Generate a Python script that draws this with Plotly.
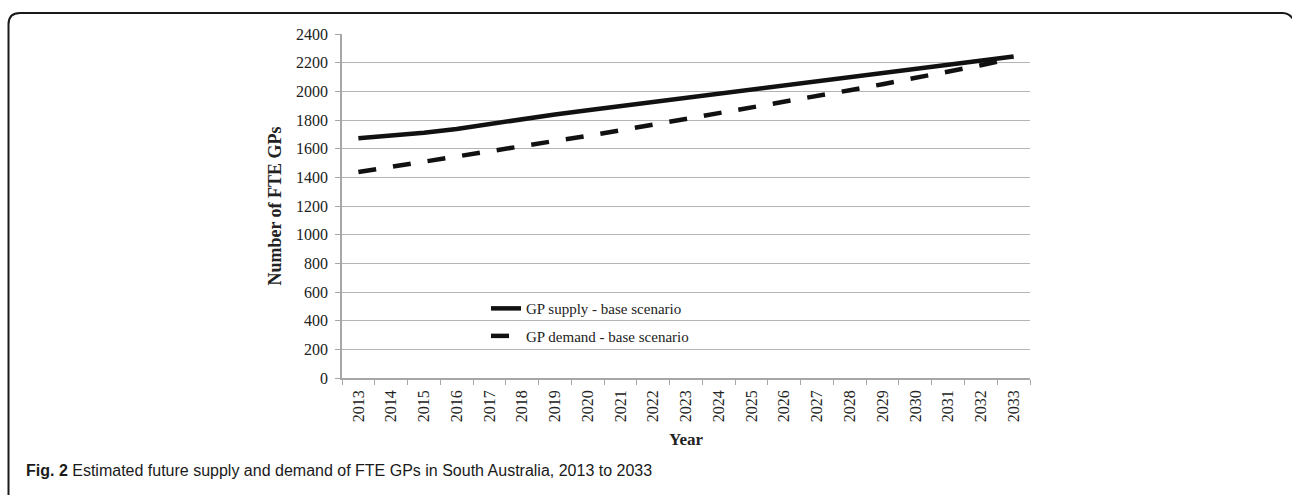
import plotly.graph_objects as go

years = [str(y) for y in range(2013, 2034)]
supply = [1672, 1688, 1711, 1737, 1772, 1810, 1839, 1868, 1897, 1926, 1955,
          1983, 2012, 2041, 2070, 2098, 2127, 2156, 2185, 2214, 2243]
demand = [1437, 1472, 1507, 1543, 1579, 1615, 1652, 1690, 1728, 1767, 1806,
          1846, 1886, 1926, 1967, 2008, 2050, 2092, 2135, 2182, 2232]
y_ticks = list(range(0, 2401, 200))

W, H = 1292, 495
L, R, T, B = 342, 1030, 33.5, 378
pw, ph = R - L, B - T


def px(x):
    return (x - L) / pw


def py(y):
    return (B - y) / ph


serif = "Liberation Serif, Times New Roman, serif"

fig = go.Figure()
fig.add_trace(go.Scatter(x=years, y=supply, mode="lines",
                         name="GP supply - base scenario", legendgroup="a",
                         line=dict(color="#111111", width=4.5)))
fig.add_trace(go.Scatter(x=years, y=demand, mode="lines",
                         name="GP demand - base scenario", legendgroup="b",
                         line=dict(color="#111111", width=4.5, dash="18px,17px")))

# figure frame (rounded)
frame = (f"M {px(8.5)},{py(500)} L {px(8.5)},{py(24)} "
         f"Q {px(8.5)},{py(12.5)} {px(20)},{py(12.5)} "
         f"L {px(1282)},{py(12.5)} Q {px(1290)},{py(12.5)} {px(1294)},{py(20)}")
fig.add_shape(type="path", path=frame, xref="paper", yref="paper",
              line=dict(color="#1a1a1a", width=2))

fig.add_annotation(
    text="<b>Fig. 2</b> Estimated future supply and demand of FTE GPs in South Australia, 2013 to 2033",
    x=px(24), y=py(471), xref="paper", yref="paper", xanchor="left", yanchor="middle",
    showarrow=False, font=dict(family="Liberation Sans, sans-serif",
                               size=16, color="#1a1a1a"))

fig.update_layout(
    width=W, height=H,
    margin=dict(l=L, r=W - R, t=T, b=H - B, pad=0),
    paper_bgcolor="white", plot_bgcolor="white",
    font=dict(family=serif, size=16, color="#222222"),
    showlegend=True,
    legend=dict(x=px(486), y=py(292), xanchor="left", yanchor="top",
                bgcolor="rgba(0,0,0,0)", font=dict(family=serif, size=15, color="#222222"),
                tracegroupgap=5),
    xaxis=dict(type="category", range=[-0.5, 20.5], tickangle=-90,
               showgrid=False, showline=True, linecolor="#a6a6a6", linewidth=1.5,
               ticks="outside", tickson="boundaries", ticklen=5, tickcolor="#a6a6a6",
               ticklabelstandoff=4,
               tickfont=dict(family=serif, size=16, color="#222222"),
               title=dict(text="<b>Year</b>", standoff=12,
                          font=dict(family=serif, size=17, color="#222222"))),
    yaxis=dict(range=[0, 2400], tickvals=y_ticks, showgrid=True, gridcolor="#b4b4b4",
               gridwidth=1.3, showline=True, linecolor="#a6a6a6", linewidth=1.5,
               ticks="outside", ticklen=5, tickcolor="#a6a6a6", zeroline=False,
               ticklabelstandoff=4,
               tickfont=dict(family=serif, size=16, color="#222222"),
               title=dict(text="<b>Number of FTE GPs</b>", standoff=10,
                          font=dict(family=serif, size=18, color="#222222"))),
)

fig.write_html("out.html", config={"displayModeBar": False},
               post_script="document.body.style.margin='0px';")
